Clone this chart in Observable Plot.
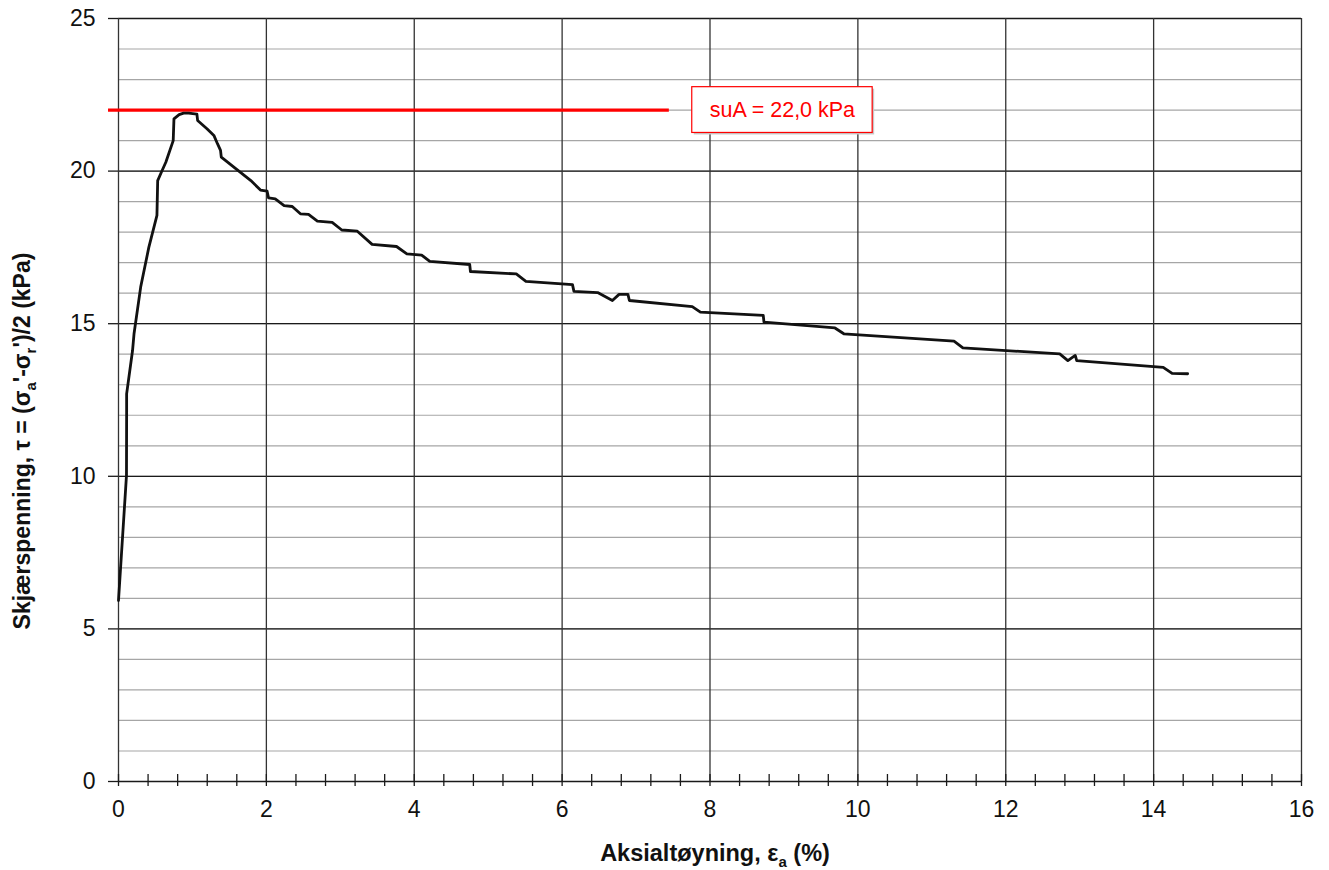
<!DOCTYPE html>
<html>
<head>
<meta charset="utf-8">
<script src="https://cdn.jsdelivr.net/npm/d3@7"></script>
<script src="https://cdn.jsdelivr.net/npm/@observablehq/plot@0.6"></script>
<style>
  html, body { margin: 0; padding: 0; background: #fff; }
</style>
</head>
<body>
<script>
// Axial strain (%) and shear stress (kPa)
const strainPct = [0, 0.108, 0.11, 0.11, 0.19, 0.21, 0.30, 0.41, 0.52, 0.53, 0.59, 0.64, 0.74, 0.75, 0.82, 0.88, 0.95, 1.06, 1.07,
  1.20, 1.29, 1.34, 1.38, 1.39, 1.79, 1.92, 2.01, 2.03, 2.12, 2.24, 2.35, 2.46, 2.57, 2.69, 2.89, 3.02, 3.23, 3.43, 3.76,
  3.90, 4.10, 4.21, 4.75, 4.76, 5.38, 5.51, 6.14, 6.16, 6.48, 6.68, 6.77, 6.89, 6.91, 7.76, 7.87, 8.72, 8.73, 9.69, 9.81,
  11.30, 11.42, 12.73, 12.84, 12.94, 12.96, 14.13, 14.25, 14.46];
const shearKPa = [5.93, 10.03, 12.1, 12.7, 14.12, 14.67, 16.2, 17.5, 18.55, 19.69, 20.02, 20.29, 21.0, 21.71, 21.85, 21.9, 21.9, 21.87, 21.66,
  21.38, 21.17, 20.89, 20.68, 20.46, 19.69, 19.38, 19.34, 19.12, 19.09, 18.87, 18.84, 18.6, 18.58, 18.36, 18.32, 18.07, 18.03, 17.6, 17.53,
  17.29, 17.25, 17.04, 16.94, 16.71, 16.63, 16.39, 16.28, 16.06, 16.02, 15.76, 15.96, 15.96, 15.76, 15.56, 15.38, 15.27, 15.05, 14.86, 14.67,
  14.43, 14.21, 14.01, 13.79, 13.96, 13.79, 13.57, 13.37, 13.36];

// Undrained shear strength annotation
const suA = [22.0];
const suLabel = ["suA = 22,0 kPa"];

// Axis ticks
const xLabelTicks = [0, 2, 4, 6, 8, 10, 12, 14, 16];
const xMinorTicks = d3.range(0, 16.001, 0.4);
const yLabelTicks = [0, 5, 10, 15, 20, 25];
const yMinorGrid = d3.range(0, 25.001, 1);

const curve = strainPct.map((x, i) => ({x, y: shearKPa[i]}));

const plot = Plot.plot({
  width: 1329,
  height: 870,
  marginLeft: 118,
  marginRight: 28,
  marginTop: 18,
  marginBottom: 89,
  style: {fontFamily: "'Liberation Sans', Arial, sans-serif", fontSize: "23px", background: "#fff", overflow: "visible"},
  x: {domain: [0, 16]},
  y: {domain: [0, 25]},
  marks: [
    Plot.gridY(yMinorGrid, {stroke: "#a6a6a6", strokeOpacity: 1, strokeWidth: 1.2}),
    Plot.gridY(yLabelTicks, {stroke: "#1a1a1a", strokeOpacity: 1, strokeWidth: 1.3}),
    Plot.gridX(xLabelTicks, {stroke: "#333", strokeOpacity: 1, strokeWidth: 1.3}),
    Plot.axisY(yLabelTicks, {tickSize: 10, tickPadding: 13, stroke: "#1a1a1a", strokeWidth: 1.3, fill: "#111", fontSize: 23, label: null}),
    Plot.axisX(xMinorTicks, {tickSize: 5, tickFormat: () => "", stroke: "#1a1a1a", strokeWidth: 1.3, label: null}),
    Plot.ruleX(xMinorTicks, {y1: 0, y2: 0.23, stroke: "#1a1a1a", strokeWidth: 1.3}),
    Plot.axisX(xLabelTicks, {tickSize: 0, tickPadding: 19, fill: "#111", fontSize: 23, label: null}),
    Plot.ruleY(suA, {y: d => d, x1: -0.135, x2: 7.45, stroke: "#ff0000", strokeWidth: 3.2}),
    Plot.rect(suA, {x1: 7.76, x2: 10.2, y1: d => d - 0.75, y2: d => d + 0.75, dx: 2, dy: 2, fill: "#c8c8c8"}),
    Plot.rect(suA, {x1: 7.76, x2: 10.2, y1: d => d - 0.75, y2: d => d + 0.75, fill: "#fff", stroke: "#ff0000", strokeWidth: 1.2}),
    Plot.text(suLabel, {x: 8.98, y: suA[0], text: d => d, fill: "#ff0000", fontSize: 21.5, textAnchor: "middle"}),
    Plot.line(curve, {x: "x", y: "y", stroke: "#111", strokeWidth: 2.8, strokeLinejoin: "round"})
  ]
});

document.body.appendChild(plot);

const svg = d3.select(plot);
// X axis title with subscript
const xt = svg.append("text")
  .attr("x", 715).attr("y", 861)
  .attr("text-anchor", "middle")
  .attr("font-weight", "bold").attr("font-size", 23.5).attr("fill", "#111")
  .attr("font-family", "'Liberation Sans', Arial, sans-serif");
xt.append("tspan").text("Aksialtøyning, ε");
xt.append("tspan").attr("font-size", 15).attr("dy", 6).text("a");
xt.append("tspan").attr("dy", -6).text(" (%)");

// Y axis title with subscripts
const yt = svg.append("text")
  .attr("transform", "translate(30,441) rotate(-90)")
  .attr("text-anchor", "middle")
  .attr("font-weight", "bold").attr("font-size", 23).attr("fill", "#111")
  .attr("font-family", "'Liberation Sans', Arial, sans-serif");
yt.append("tspan").text("Skjærspenning, τ = (σ");
yt.append("tspan").attr("font-size", 15).attr("dy", 6).text("a");
yt.append("tspan").attr("dy", -6).text("'-σ");
yt.append("tspan").attr("font-size", 15).attr("dy", 6).text("r");
yt.append("tspan").attr("dy", -6).text("')/2 (kPa)");
</script>
</body>
</html>
